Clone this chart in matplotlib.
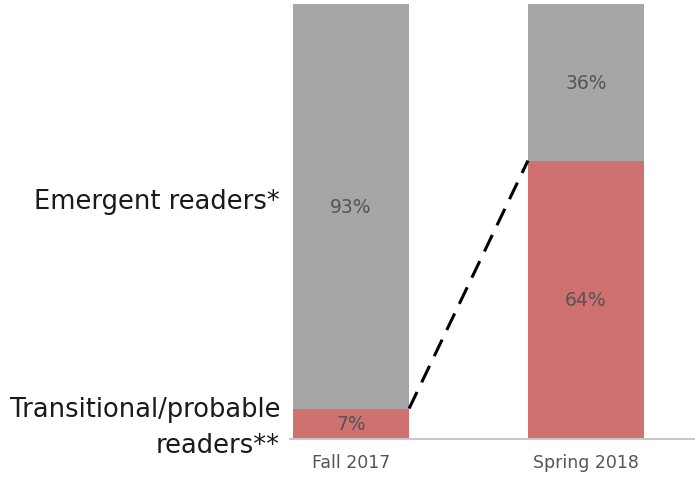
import matplotlib
matplotlib.use('Agg')
import matplotlib.pyplot as plt

plt.rcParams['font.family'] = ['DejaVu Sans']

periods = ['Fall 2017', 'Spring 2018']
transitional = [7, 64]
emergent = [93, 36]

red = '#d07171'
gray = '#a6a6a6'
text_col = '#555555'
bar_w = 0.494

fig = plt.figure(figsize=(6.95, 4.81), dpi=100)
ax = fig.add_axes([290 / 695, 1 - 440 / 481, 1 - 290 / 695, 435 / 481])

x = list(range(len(periods)))
ax.bar(x, transitional, width=bar_w, color=red)
ax.bar(x, emergent, width=bar_w, bottom=transitional, color=gray)

for i in x:
    ax.text(i, transitional[i] / 2, f'{transitional[i]}%', ha='center', va='center',
            fontsize=13.5, color=text_col)
    ax.text(i, transitional[i] + emergent[i] / 2, f'{emergent[i]}%', ha='center',
            va='center', fontsize=13.5, color=text_col)

# dashed connector between the tops of the red segments
ax.plot([x[0] + bar_w / 2, x[1] - bar_w / 2], [transitional[0], transitional[1]],
        color='black', linestyle=(0, (6, 3.5)), linewidth=2.2)

ax.set_xlim(-0.26, 1.464)
ax.set_ylim(0, 100)
ax.set_xticks(x)
ax.set_xticklabels(periods, fontsize=12.5, color=text_col)
ax.tick_params(axis='x', length=0, pad=10)
ax.set_yticks([])
for side in ['left', 'right', 'top']:
    ax.spines[side].set_visible(False)
ax.spines['bottom'].set_color('#c8c8c8')
ax.spines['bottom'].set_linewidth(1.5)

fig.text(280 / 695, 1 - 202 / 481, 'Emergent readers*', ha='right', va='center',
         fontsize=18.5, color='#1a1a1a')
fig.text(280 / 695, 1 - 410 / 481, 'Transitional/probable', ha='right', va='center',
         fontsize=18.5, color='#1a1a1a')
fig.text(280 / 695, 1 - 446 / 481, 'readers**', ha='right', va='center',
         fontsize=18.5, color='#1a1a1a')

plt.savefig('out.png', dpi=100)
plt.close(fig)
